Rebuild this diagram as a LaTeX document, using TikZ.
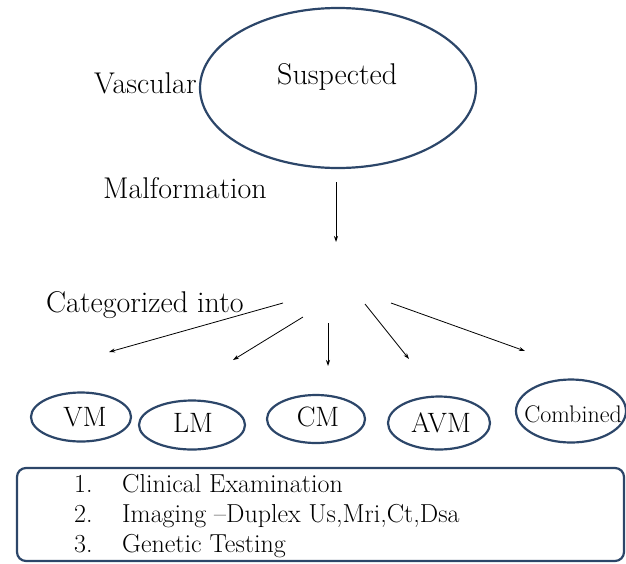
\documentclass[tikz,border=0pt]{standalone}
\usetikzlibrary{shapes.geometric,arrows.meta}
\definecolor{navy}{HTML}{2C4669}
\begin{document}
\begin{tikzpicture}[x=1pt,y=-1pt,
  oval/.style={draw=navy,line width=2.2pt,ellipse,inner sep=0pt},
  lbl/.style={font=\fontsize{30}{34}\selectfont,inner sep=0pt},
  catlbl/.style={font=\fontsize{28}{32}\selectfont,inner sep=0pt},
  small/.style={font=\fontsize{24}{28}\selectfont,inner sep=0pt},
  listlbl/.style={font=\fontsize{26}{30}\selectfont,inner sep=0pt},
  arr/.style={-{Stealth[length=6pt,width=4pt]},line width=0.8pt}]
\useasboundingbox (0,0) rectangle (626,563);
% top ellipse
\node[oval,minimum width=276pt,minimum height=160pt] (susp) at (338,88) {};
\node[lbl,anchor=base west] (tsusp) at (277,84) {Suspected};
\node[lbl,anchor=base west] (vasc) at (94,93) {Vascular};
\node[lbl,anchor=base west] (malf) at (103,198) {Malformation};
\node[lbl,anchor=base west] (cat) at (46,312) {Categorized into};
% main arrow
\coordinate (a0) at (336,182);
\coordinate (a1) at (336,242);
\draw[arr] (a0) -- (a1);
% category ellipses
\node[oval,minimum width=100pt,minimum height=49pt] (vm) at (81,417) {};
\node[oval,minimum width=106pt,minimum height=49pt] (lm) at (192,425) {};
\node[oval,minimum width=98pt,minimum height=48pt] (cm) at (316,419) {};
\node[oval,minimum width=102pt,minimum height=53pt] (avm) at (439,423) {};
\node[oval,minimum width=110pt,minimum height=63pt] (comb) at (571,411) {};
\node[catlbl,anchor=base] (tvm) at (85,426) {VM};
\node[catlbl,anchor=base] (tlm) at (193,432) {LM};
\node[catlbl,anchor=base] (tcm) at (318,426) {CM};
\node[catlbl,anchor=base] (tavm) at (441,432) {AVM};
\node[small,anchor=base] (tcomb) at (573,422) {Combined};
% category arrows
\coordinate (s1) at (283,303); \coordinate (e1) at (109,352);
\coordinate (s2) at (303,317); \coordinate (e2) at (233,360);
\coordinate (s3) at (328,323); \coordinate (e3) at (328,366);
\coordinate (s4) at (365,304); \coordinate (e4) at (409,359);
\coordinate (s5) at (391,303); \coordinate (e5) at (525,351);
\draw[arr] (s1) -- (e1);
\draw[arr] (s2) -- (e2);
\draw[arr] (s3) -- (e3);
\draw[arr] (s4) -- (e4);
\draw[arr] (s5) -- (e5);
% bottom box
\draw[navy,line width=2.2pt,rounded corners=9pt] (17,468) rectangle (624,561);
\node[listlbl,anchor=base west] (n1) at (74,492) {1.};
\node[listlbl,anchor=base west] (n2) at (74,522) {2.};
\node[listlbl,anchor=base west] (n3) at (74,552) {3.};
\node[listlbl,anchor=base west] (l1) at (122,492) {Clinical Examination};
\node[listlbl,anchor=base west] (l2) at (122,522) {Imaging --Duplex Us,Mri,Ct,Dsa};
\node[listlbl,anchor=base west] (l3) at (122,552) {Genetic Testing};
\end{tikzpicture}
\end{document}
